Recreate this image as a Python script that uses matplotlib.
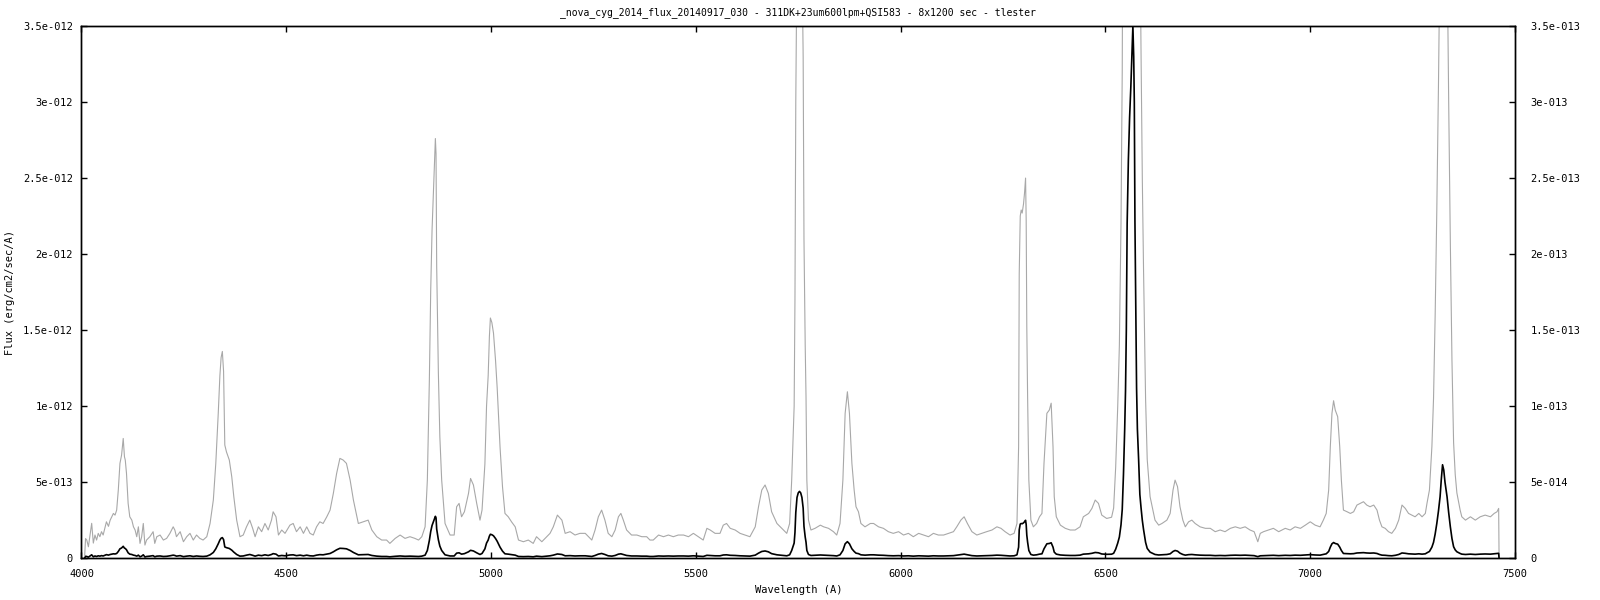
import numpy as np
import matplotlib
matplotlib.use("Agg")
import matplotlib.pyplot as plt

# spectrum, wavelength (A) and flux in units of 1e-14 erg/cm2/sec/A
wavelength = [
    4008, 4010, 4013, 4017, 4021, 4025, 4029, 4033, 4037, 4041, 4045, 4049, 4053, 4057, 4061,
    4066, 4070, 4074, 4078, 4082, 4086, 4090, 4094, 4098, 4102, 4105, 4107, 4110, 4114, 4118,
    4123, 4127, 4131, 4135, 4139, 4143, 4147, 4151, 4155, 4159, 4167, 4175, 4179, 4184, 4192,
    4200, 4208, 4216, 4224, 4228, 4232, 4241, 4249, 4257, 4265, 4273, 4281, 4289, 4297, 4306,
    4314, 4322, 4328, 4334, 4338, 4341, 4344, 4347, 4350, 4354, 4361, 4367, 4372, 4379, 4387,
    4395, 4403, 4411, 4418, 4424, 4432, 4440, 4448, 4456, 4464, 4468, 4475, 4481, 4489, 4497,
    4509, 4517, 4525, 4534, 4542, 4550, 4558, 4566, 4574, 4582, 4590, 4599, 4607, 4615, 4623,
    4631, 4639, 4647, 4656, 4664, 4676, 4688, 4700, 4709, 4721, 4733, 4745, 4753, 4766, 4778,
    4790, 4802, 4814, 4823, 4831, 4839, 4844.5, 4849.4, 4852.7, 4856, 4859.2, 4864.1, 4865.7, 4867.3, 4871.4,
    4875, 4879.5, 4887.7, 4900, 4910, 4916, 4922, 4928, 4935, 4945, 4950, 4957, 4965, 4973, 4978,
    4985, 4989, 4993, 4996, 4998.4, 5002, 5006, 5011, 5015, 5019, 5022, 5028, 5034, 5042, 5050,
    5059, 5067, 5079, 5091, 5103, 5111, 5124, 5136, 5144, 5152, 5162, 5173, 5181, 5193, 5205,
    5217, 5230, 5238, 5246, 5254, 5262, 5270, 5278, 5286, 5295, 5303, 5311, 5317, 5323, 5331,
    5343, 5356, 5368, 5380, 5388, 5396, 5409, 5421, 5433, 5445, 5457, 5470, 5482, 5494, 5506,
    5518, 5527, 5535, 5547, 5559, 5567, 5575, 5584, 5596, 5608, 5620, 5632, 5645, 5653, 5661,
    5669, 5677, 5685, 5698, 5710, 5722, 5729, 5734, 5740, 5742, 5744, 5747, 5750, 5753, 5756,
    5759, 5762, 5764, 5767, 5769, 5771, 5775, 5781, 5791, 5804, 5812, 5824, 5836, 5844, 5852,
    5859, 5864.5, 5870, 5875, 5881, 5886.5, 5891, 5897, 5903, 5913, 5926, 5934, 5946, 5958, 5970,
    5982, 5995, 6007, 6019, 6031, 6044, 6056, 6068, 6080, 6092, 6105, 6117, 6129, 6137, 6147,
    6155, 6163, 6174, 6186, 6198, 6210, 6223, 6235, 6245, 6255, 6267, 6277, 6284, 6288, 6289.5,
    6292, 6294.3, 6296.7, 6300, 6302.4, 6305, 6306.5, 6308, 6310, 6313, 6318, 6324, 6332, 6339, 6345,
    6350, 6357, 6363, 6367.5, 6372, 6375, 6380, 6390, 6402, 6414, 6426, 6438, 6446, 6459, 6467,
    6475, 6483, 6491, 6503, 6515, 6520, 6525, 6530, 6534, 6538, 6541, 6544, 6547, 6549, 6551,
    6553, 6556, 6559, 6562, 6565, 6567, 6569, 6570.5, 6572, 6574, 6576, 6578, 6581, 6584, 6587,
    6590, 6593, 6596, 6598, 6602, 6609, 6621, 6630, 6638, 6650, 6658, 6665, 6670, 6676, 6682,
    6689, 6695, 6703, 6711, 6719, 6731, 6744, 6756, 6768, 6780, 6792, 6805, 6817, 6829, 6841,
    6853, 6863, 6872, 6878, 6886, 6898, 6910, 6923, 6939, 6951, 6963, 6976, 6988, 7000, 7012,
    7024, 7032, 7039, 7045, 7049, 7053, 7057, 7061, 7067, 7072, 7076, 7081, 7090, 7098, 7106,
    7114, 7122, 7130, 7138, 7146, 7155, 7163, 7169, 7175, 7183, 7191, 7199, 7208, 7216, 7224,
    7232, 7240, 7248, 7256, 7265, 7273, 7281, 7285, 7291, 7297, 7301, 7305, 7309, 7313, 7317,
    7320, 7323, 7326, 7329, 7334, 7338, 7342, 7346, 7350, 7354, 7358, 7366, 7370, 7379, 7391,
    7403, 7415, 7427, 7440, 7449, 7456, 7460, 7461,
]
flux = [
    0.2, 1.3, 1.2, 0.76, 1.53, 2.3, 1.0, 1.53, 1.2, 1.64, 1.42, 1.75, 1.53, 1.97, 2.4,
    2.1, 2.5, 2.73, 2.95, 2.84, 3.17, 4.49, 6.24, 6.79, 7.88, 6.68, 6.46, 5.58, 3.61, 2.73,
    2.51, 2.07, 1.86, 1.42, 2.07, 0.98, 1.42, 2.29, 0.87, 1.2, 1.42, 1.75, 0.98, 1.42, 1.53,
    1.2, 1.31, 1.64, 2.07, 1.86, 1.42, 1.75, 1.09, 1.42, 1.64, 1.2, 1.53, 1.31, 1.2, 1.42,
    2.29, 3.83, 6.24, 9.53, 12.0, 13.2, 13.6, 12.3, 7.45, 7.0, 6.46, 5.36, 4.05, 2.51, 1.42,
    1.53, 2.07, 2.51, 1.97, 1.42, 2.07, 1.75, 2.29, 1.86, 2.51, 3.06, 2.73, 1.53, 1.86, 1.64,
    2.18, 2.29, 1.75, 2.07, 1.64, 2.07, 1.64, 1.53, 2.07, 2.4, 2.29, 2.73, 3.17, 4.27, 5.58,
    6.57, 6.46, 6.24, 5.14, 3.83, 2.29, 2.4, 2.51, 1.86, 1.42, 1.2, 1.2, 0.98, 1.31, 1.53,
    1.31, 1.42, 1.31, 1.2, 1.42, 2.07, 5.14, 11.7, 17.6, 21.6, 24.0, 27.6, 26.6, 19.2, 12.2,
    8.0, 5.14, 2.29, 1.53, 1.53, 3.39, 3.61, 2.73, 3.06, 4.27, 5.25, 4.82, 3.61, 2.51, 3.17,
    6.2, 10.0, 12.0, 14.6, 15.8, 15.5, 14.8, 13.0, 11.2, 9.0, 7.3, 4.7, 2.95, 2.73, 2.4,
    2.07, 1.2, 1.09, 1.2, 0.98, 1.42, 1.09, 1.42, 1.64, 2.07, 2.84, 2.51, 1.64, 1.75, 1.53,
    1.64, 1.64, 1.42, 1.2, 1.86, 2.73, 3.17, 2.51, 1.64, 1.42, 1.86, 2.73, 2.95, 2.51, 1.86,
    1.53, 1.53, 1.42, 1.42, 1.2, 1.2, 1.53, 1.42, 1.53, 1.42, 1.53, 1.53, 1.42, 1.64, 1.42,
    1.2, 1.97, 1.86, 1.64, 1.64, 2.18, 2.29, 1.97, 1.86, 1.64, 1.53, 1.42, 2.07, 3.39, 4.49,
    4.82, 4.27, 3.06, 2.29, 1.97, 1.64, 2.29, 5.14, 10.0, 17.0, 30.0, 40.0, 43.0, 44.0, 43.0,
    40.0, 33.0, 21.0, 14.0, 10.6, 5.14, 2.51, 1.86, 1.97, 2.18, 2.07, 1.97, 1.75, 1.53, 2.29,
    5.14, 9.53, 10.95, 9.53, 6.24, 4.49, 3.39, 3.06, 2.29, 2.07, 2.29, 2.29, 2.07, 1.97, 1.75,
    1.64, 1.75, 1.53, 1.64, 1.42, 1.64, 1.53, 1.42, 1.64, 1.53, 1.53, 1.64, 1.75, 2.07, 2.51,
    2.73, 2.29, 1.75, 1.53, 1.64, 1.75, 1.86, 2.07, 1.97, 1.75, 1.53, 1.64, 2.29, 7.34, 18.7,
    22.5, 22.9, 22.7, 23.3, 24.0, 25.0, 22.2, 15.2, 10.6, 5.14, 2.51, 2.07, 2.29, 2.73, 2.95,
    6.24, 9.53, 9.75, 10.2, 7.34, 4.05, 2.73, 2.18, 1.97, 1.86, 1.86, 2.07, 2.73, 2.95, 3.28,
    3.83, 3.61, 2.84, 2.62, 2.7, 3.3, 6.0, 10.0, 14.0, 22.0, 32.0, 55.0, 85.0, 110.0, 150.0,
    220.0, 262.0, 290.0, 310.0, 335.0, 350.0, 330.0, 300.0, 222.0, 170.0, 112.0, 85.0, 65.0, 42.0, 33.0,
    25.0, 19.0, 14.0, 10.5, 6.5, 4.05, 2.51, 2.18, 2.29, 2.51, 2.95, 4.49, 5.14, 4.71, 3.39,
    2.51, 2.07, 2.4, 2.51, 2.29, 2.07, 1.97, 1.97, 1.75, 1.86, 1.75, 1.97, 2.07, 1.97, 2.07,
    1.86, 1.75, 1.09, 1.64, 1.75, 1.86, 1.97, 1.75, 1.97, 1.86, 2.07, 1.97, 2.18, 2.4, 2.18,
    2.07, 2.51, 2.95, 4.49, 7.34, 9.53, 10.36, 9.75, 9.31, 7.34, 5.14, 3.17, 3.06, 2.95, 3.06,
    3.5, 3.61, 3.72, 3.5, 3.39, 3.5, 3.17, 2.51, 2.07, 1.97, 1.75, 1.64, 1.97, 2.51, 3.5,
    3.28, 2.95, 2.84, 2.73, 2.95, 2.73, 2.95, 3.61, 4.49, 7.34, 10.5, 16.0, 22.9, 31.0, 40.5,
    52.0, 61.5, 58.0, 50.0, 40.5, 30.0, 20.8, 13.0, 7.6, 5.5, 4.3, 3.17, 2.73, 2.51, 2.73,
    2.51, 2.73, 2.84, 2.73, 2.95, 3.06, 3.28, 0.1,
]

x_ticks = [4000, 4500, 5000, 5500, 6000, 6500, 7000, 7500]
left_ticks = [0, 5e-13, 1e-12, 1.5e-12, 2e-12, 2.5e-12, 3e-12, 3.5e-12]
left_labels = ["0", "5e-013", "1e-012", "1.5e-012", "2e-012", "2.5e-012", "3e-012", "3.5e-012"]
right_ticks = [0, 5e-14, 1e-13, 1.5e-13, 2e-13, 2.5e-13, 3e-13, 3.5e-13]
right_labels = ["0", "5e-014", "1e-013", "1.5e-013", "2e-013", "2.5e-013", "3e-013", "3.5e-013"]

title = "_nova_cyg_2014_flux_20140917_030 - 311DK+23um600lpm+QSI583 - 8x1200 sec - tlester"

plt.rcParams["font.family"] = ["DejaVu Sans Mono"]
fs = 7.5

wl = np.array(wavelength)
f = np.array(flux) * 1e-14

fig = plt.figure(figsize=(16, 6), dpi=100)
ax = fig.add_axes([0.0509, 0.0695, 0.8960, 0.8872])
ax2 = ax.twinx()

# same spectrum twice: grey against the x10 right axis, black against the left one
ax2.plot(wl, f, color="#a8a8a8", lw=0.8)
ax.plot(wl, f, color="black", lw=1.2)
ax.set_zorder(ax2.get_zorder() + 1)
ax.patch.set_visible(False)

ax.set_xlim(4000, 7500)
ax.set_ylim(0, 3.5e-12)
ax2.set_ylim(0, 3.5e-13)

ax.set_xticks(x_ticks)
ax.set_xticklabels([str(t) for t in x_ticks], fontsize=fs)
ax.set_yticks(left_ticks)
ax.set_yticklabels(left_labels, fontsize=fs)
ax2.set_yticks(right_ticks)
ax2.set_yticklabels(right_labels, fontsize=fs)

ax.tick_params(axis="x", direction="in", length=4, width=1, top=True, pad=8)
ax.tick_params(axis="y", direction="in", length=4, width=1, pad=6)
ax2.tick_params(axis="y", direction="in", length=4, width=1, pad=11)
for a in (ax, ax2):
    for s in a.spines.values():
        s.set_linewidth(1)

fig.text(0.499, 0.979, title, ha="center", va="center", fontsize=7)
fig.text(0.499, 0.017, "Wavelength (A)", ha="center", va="center", fontsize=fs)
fig.text(0.006, 0.513, "Flux (erg/cm2/sec/A)", ha="center", va="center", rotation=90, fontsize=fs)

fig.savefig("out.png", dpi=100)
